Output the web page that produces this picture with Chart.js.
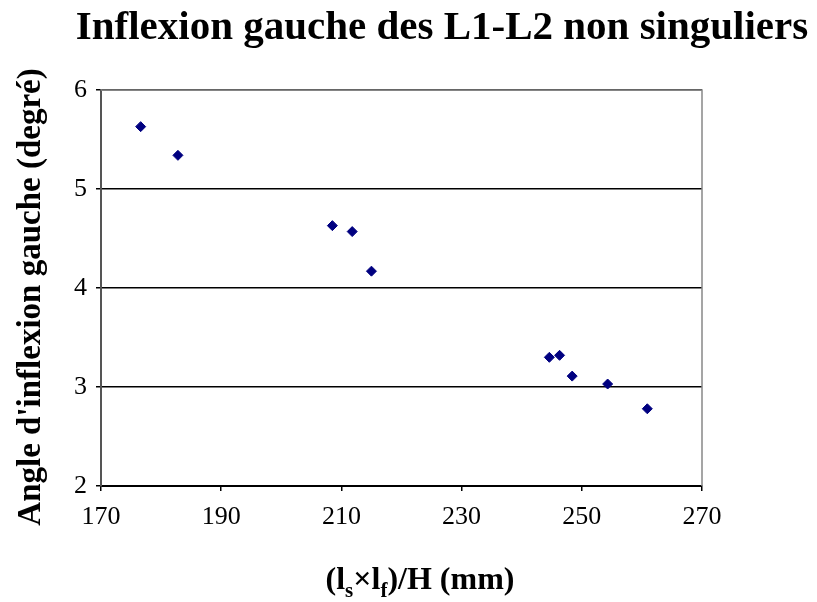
<!DOCTYPE html>
<html>
<head>
<meta charset="utf-8">
<script src="https://cdn.jsdelivr.net/npm/chart.js@4.4.1/dist/chart.umd.min.js"></script>
<style>
  html, body { margin: 0; padding: 0; background: #fff; }
  #wrap { width: 817px; height: 602px; }
</style>
</head>
<body>
<div id="wrap"><canvas id="scatterChart" width="817" height="602"></canvas></div>
<script>
// values
const ratioMm = [176.6, 182.8, 208.5, 211.8, 215.0, 244.6, 246.3, 248.4, 254.3, 260.9];
const angleDeg = [5.63, 5.34, 4.63, 4.57, 4.17, 3.30, 3.32, 3.11, 3.03, 2.78];
const xTicks = [170, 190, 210, 230, 250, 270];
const yTicks = [2, 3, 4, 5, 6];

const chartTitle = "Inflexion gauche des L1-L2 non singuliers";
const yTitle = "Angle d'inflexion gauche (degré)";
// x title pieces, sub = subscript
const xTitleParts = [
  { t: "(l" }, { t: "s", sub: true }, { t: "×l" }, { t: "f", sub: true }, { t: ")/H (mm)" },
];

const serif = "'Liberation Serif', 'Times New Roman', serif";

// gray frame on top and right, plus the titles (placed by hand)
const extras = {
  id: "extras",
  beforeDatasetsDraw(chart) {
    const { ctx, chartArea: a } = chart;
    ctx.save();
    ctx.strokeStyle = "#888";
    ctx.lineWidth = 1.5;
    ctx.beginPath();
    ctx.moveTo(a.left, a.top);
    ctx.lineTo(a.right, a.top);
    ctx.lineTo(a.right, a.bottom);
    ctx.stroke();
    ctx.restore();
  },
  afterDraw(chart) {
    const ctx = chart.ctx;
    ctx.save();
    ctx.fillStyle = "#000";
    ctx.textBaseline = "alphabetic";

    // main title
    ctx.font = "bold 41px " + serif;
    ctx.textAlign = "center";
    ctx.fillText(chartTitle, 442, 39);

    // y axis title, rotated
    ctx.save();
    ctx.translate(40, 297);
    ctx.rotate(-Math.PI / 2);
    ctx.font = "bold 33px " + serif;
    ctx.fillText(yTitle, 0, 0);
    ctx.restore();

    // x axis title with subscripts
    ctx.textAlign = "left";
    const big = "bold 32px " + serif;
    const small = "bold 21px " + serif;
    let total = 0;
    xTitleParts.forEach((p) => {
      ctx.font = p.sub ? small : big;
      p.w = ctx.measureText(p.t).width;
      total += p.w;
    });
    let x = 420 - total / 2;
    xTitleParts.forEach((p) => {
      ctx.font = p.sub ? small : big;
      ctx.fillText(p.t, x, p.sub ? 597 : 589);
      x += p.w;
    });
    ctx.restore();
  },
};

const ctx = document.getElementById("scatterChart").getContext("2d");
new Chart(ctx, {
  type: "scatter",
  data: {
    datasets: [
      {
        label: "L1-L2",
        data: ratioMm.map((x, i) => ({ x: x, y: angleDeg[i] })),
        backgroundColor: "#000080",
        borderColor: "#000080",
        pointStyle: "rectRot",
        pointRadius: 5,
        pointHoverRadius: 5,
      },
    ],
  },
  options: {
    responsive: false,
    animation: false,
    layout: { padding: { left: 0, right: 115, top: 90, bottom: 0 } },
    plugins: {
      legend: { display: false },
      tooltip: { enabled: false },
    },
    scales: {
      x: {
        type: "linear",
        min: 170,
        max: 270,
        afterBuildTicks(axis) {
          axis.ticks = xTicks.map((v) => ({ value: v }));
        },
        afterFit(axis) {
          axis.height = 116;
        },
        grid: {
          drawOnChartArea: false,
          color: "#000",
          tickLength: 5,
          lineWidth: 1.5,
        },
        border: { color: "#000", width: 2 },
        ticks: {
          color: "#000",
          font: { family: serif, size: 26 },
          padding: 11,
        },
      },
      y: {
        type: "linear",
        min: 2,
        max: 6,
        afterBuildTicks(axis) {
          axis.ticks = yTicks.map((v) => ({ value: v }));
        },
        afterFit(axis) {
          axis.width = 101;
        },
        grid: {
          color: "#000",
          tickLength: 5,
          lineWidth: 1.5,
        },
        border: { color: "#555", width: 2 },
        ticks: {
          color: "#000",
          font: { family: serif, size: 26 },
          padding: 9,
        },
      },
    },
  },
  plugins: [extras],
});
</script>
</body>
</html>
